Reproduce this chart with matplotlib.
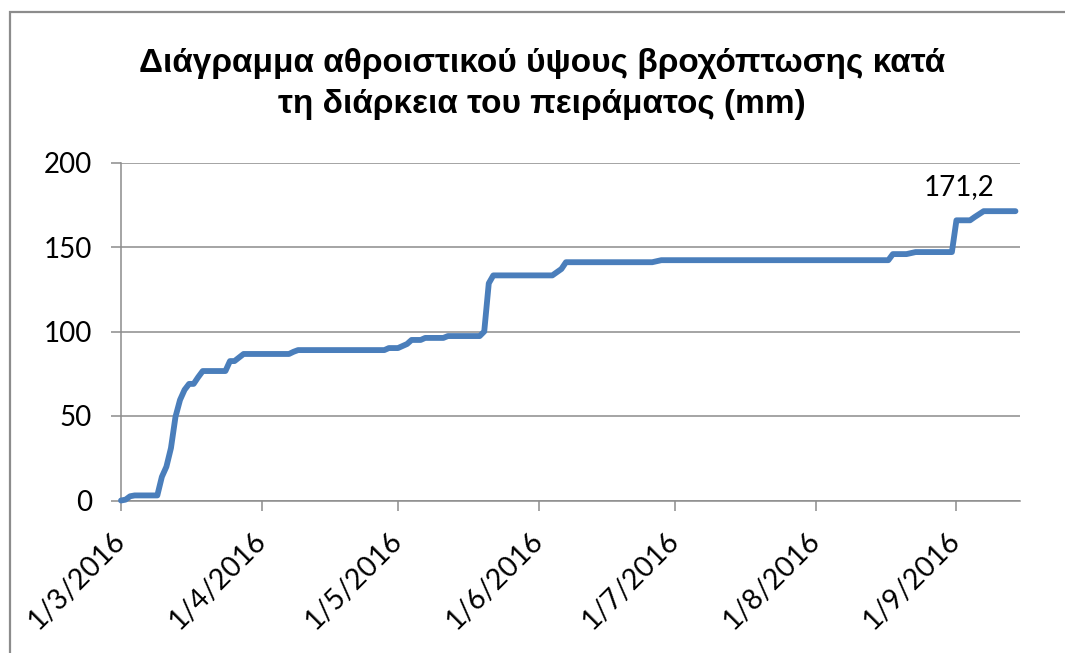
import datetime as dt
import matplotlib
matplotlib.use('Agg')
import matplotlib.pyplot as plt
import matplotlib.dates as mdates
from matplotlib.patches import Rectangle

# Cumulative rainfall (mm)
dates = ['2016-03-01', '2016-03-02', '2016-03-03', '2016-03-04', '2016-03-09',
         '2016-03-10', '2016-03-11', '2016-03-12', '2016-03-13', '2016-03-14',
         '2016-03-15', '2016-03-16', '2016-03-17', '2016-03-18', '2016-03-19',
         '2016-03-24', '2016-03-25', '2016-03-26', '2016-03-28', '2016-04-07',
         '2016-04-08', '2016-04-09', '2016-04-28', '2016-04-29', '2016-05-01',
         '2016-05-03', '2016-05-04', '2016-05-06', '2016-05-07', '2016-05-11',
         '2016-05-12', '2016-05-19', '2016-05-20', '2016-05-21', '2016-05-22',
         '2016-06-04', '2016-06-06', '2016-06-07', '2016-06-26', '2016-06-28',
         '2016-08-17', '2016-08-18', '2016-08-21', '2016-08-23', '2016-08-31',
         '2016-09-01', '2016-09-04', '2016-09-05', '2016-09-07', '2016-09-14']
rain = [0, 0.5, 2.5, 3, 3,
        14, 20, 31, 49.5, 59.5,
        65.5, 69, 69, 73, 76.6,
        76.6, 82.5, 82.5, 86.7, 86.7,
        88, 89, 89, 90.2, 90.2,
        92.6, 95, 95, 96.2, 96.2,
        97.3, 97.3, 100, 128.5, 133.2,
        133.2, 137, 141, 141, 142.2,
        142.2, 145.8, 145.8, 147, 147,
        165.8, 165.8, 167.7, 171.2, 171.2]

title = 'Διάγραμμα αθροιστικού ύψους βροχόπτωσης κατά\nτη διάρκεια του πειράματος (mm)'
last_label = '171,2'

x = [dt.datetime.strptime(d, '%Y-%m-%d') for d in dates]
month_ticks = [dt.datetime(2016, m, 1) for m in range(3, 10)]

fig = plt.figure(figsize=(10.65, 6.53), dpi=100)
ax = fig.add_axes([121 / 1065, 1 - 500.5 / 653, (1020 - 121) / 1065, (500.5 - 162.5) / 653])

# outer chart frame (only top and left visible in the reference)
fig.patches.append(Rectangle((10 / 1065, -0.1), 1.2, 1 - 12 / 653 + 0.1,
                             transform=fig.transFigure, fill=False,
                             edgecolor='#8c8c8c', linewidth=1.6))

ax.plot(x, rain, color='#4a7ebb', linewidth=4.2, solid_capstyle='round',
        solid_joinstyle='round', zorder=3, clip_on=False)

ax.set_ylim(0, 200)
ax.set_yticks([0, 50, 100, 150, 200])
ax.set_xlim(dt.datetime(2016, 3, 1), dt.datetime(2016, 9, 15))
ax.set_xticks(month_ticks)
ax.xaxis.set_major_formatter(
    matplotlib.ticker.FuncFormatter(
        lambda v, p: '{0.day}/{0.month}/{0.year}'.format(mdates.num2date(v))))

ax.grid(axis='y', color='#8c8c8c', linewidth=1.1)
ax.set_axisbelow(True)
for s in ['top', 'right']:
    ax.spines[s].set_visible(False)
for s in ['left', 'bottom']:
    ax.spines[s].set_color('#8c8c8c')
    ax.spines[s].set_linewidth(1.1)

ax.tick_params(axis='y', length=7, width=1.1, color='#8c8c8c', pad=14,
               labelsize=20)
ax.tick_params(axis='x', length=7, width=1.1, color='#8c8c8c', pad=19,
               labelsize=20.5)
for lab in ax.get_yticklabels() + ax.get_xticklabels():
    lab.set_fontfamily('Lato')
for lab in ax.get_xticklabels():
    lab.set_rotation(45)
    lab.set_ha('right')
    lab.set_va('center')
    lab.set_rotation_mode('anchor')

ax.text(dt.datetime(2016, 9, 1, 14), 185.5, last_label, ha='center', va='center',
        fontsize=20, fontfamily='Lato')

fig.text(0.509, 1 - 84 / 653, title, ha='center', va='center',
         fontsize=24, fontweight='bold', fontfamily='Liberation Sans',
         linespacing=1.4)

fig.savefig('out.png', dpi=100)
